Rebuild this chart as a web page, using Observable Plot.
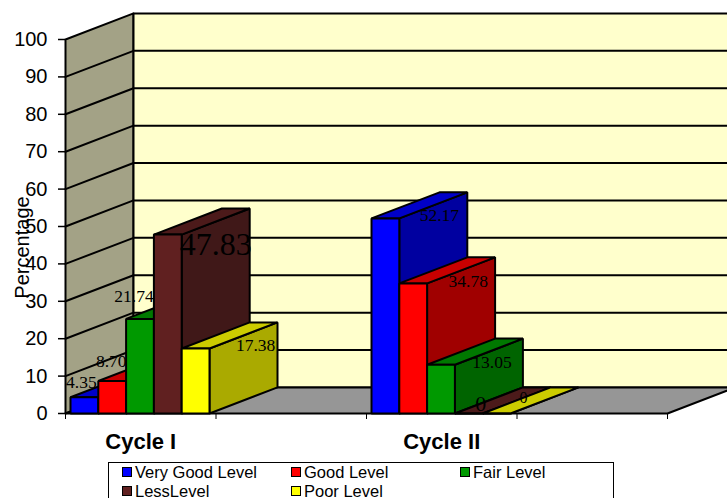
<!DOCTYPE html>
<html>
<head>
<meta charset="utf-8">
<script src="https://cdn.jsdelivr.net/npm/d3@7"></script>
<script src="https://cdn.jsdelivr.net/npm/@observablehq/plot@0.6"></script>
<style>
  body { margin: 0; background: #fff; overflow: hidden; }
  #wrap { position: relative; width: 727px; height: 498px; overflow: hidden; font-family: "Liberation Sans", Arial, sans-serif; }
  #wrap svg { overflow: hidden; }
  .legend { position: absolute; left: 108px; top: 462px; width: 506px; height: 60px; border: 1px solid #000; box-sizing: border-box; }
  .item { position: absolute; display: flex; align-items: center; font-size: 16.5px; line-height: 18px; color: #000; white-space: nowrap; }
  .swatch { width: 8px; height: 8px; border: 1.5px solid #000; margin-right: 3px; margin-top: -1px; }
</style>
</head>
<body>
<div id="wrap"></div>
<script>
// ---- data ----
const categories = ["Cycle I", "", "Cycle II", ""];
const cycles = ["Cycle I", "Cycle II"];
const series = ["Very Good Level", "Good Level", "Fair Level", "LessLevel", "Poor Level"];
const veryGood = [4.35, 52.17];
const good = [8.70, 34.78];
const fair = [25.3, 13.05];
const less = [47.83, 0];
const poor = [17.38, 0];
const valueLabels = [["4.35", "8.70", "21.74", "47.83", "17.38"], ["52.17", "34.78", "13.05", "0", "0"]];
const yTicks = [0, 10, 20, 30, 40, 50, 60, 70, 80, 90, 100];
const yLabel = "Percentage";

// ---- styles ----
const frontColors = ["#0000ff", "#ff0000", "#009900", "#602020", "#ffff00"];
const topColors   = ["#0000c8", "#c80000", "#007800", "#4c1a1a", "#cccc00"];
const sideColors  = ["#0000a0", "#a00000", "#006400", "#401818", "#aaaa00"];
const sideWallColor = "#a3a286";
const backWallColor = "#ffffcc";
const floorColor = "#969696";
// label nudges (px, relative to front-top centre of bar) and sizes
const labelNudge = [
  [[-3, -15, 17.5], [-1, -20, 17.5], [-6, -22, 17.5], [48, 10, 32], [60, -3, 17.5]],
  [[54, -3, 17.5], [55, -2, 17.5], [51, -2, 17.5], [12, -10, 22], [27, -16, 16]]
];

const values = [veryGood, good, fair, less, poor];

// projection constants (oblique depth)
const slotPx = 602 / categories.length;
const DX = 68 / slotPx;          // depth shift in x (category units)
const DY = 26 * 100 / 373;       // depth shift in y (value units)
const P = (x, y, d) => ({x: x + d * DX, y: y + d * DY});

const polys = [];
let pid = 0;
function poly(pts, fill) {
  const id = pid++;
  for (const [x, y, d] of pts) polys.push({id, fill, ...P(x, y, d)});
}
const N = categories.length;
// walls
poly([[0, 0, 0], [0, 100, 0], [0, 100, 1], [0, 0, 1]], sideWallColor);
poly([[0, 0, 1], [0, 100, 1], [N, 100, 1], [N, 0, 1]], backWallColor);
poly([[0, 0, 0], [N, 0, 0], [N, 0, 1], [0, 0, 1]], floorColor);

// gridlines
const grid = [];
yTicks.filter(t => t > 0 && t < 100).forEach((t, i) => {
  [[0, t, 0], [0, t, 1], [N, t, 1]].forEach(([x, y, d]) => grid.push({g: i, ...P(x, y, d)}));
});

// bars
const pad = 5 / slotPx;
const bw = 139 / 5 / slotPx;
const labels = [];
cycles.forEach((c, ci) => {
  const slot = categories.indexOf(c);
  series.forEach((s, si) => {
    const v = values[si][ci];
    const x0 = slot + pad + si * bw, x1 = x0 + bw;
    poly([[x1, 0, 0], [x1, v, 0], [x1, v, 1], [x1, 0, 1]], sideColors[si]);
    poly([[x0, v, 0], [x1, v, 0], [x1, v, 1], [x0, v, 1]], topColors[si]);
    poly([[x0, 0, 0], [x1, 0, 0], [x1, v, 0], [x0, v, 0]], frontColors[si]);
    const [dx, dy, fs] = labelNudge[ci][si];
    labels.push({x: (x0 + x1) / 2, y: v, text: valueLabels[ci][si], dx, dy, fs});
  });
});
const wallPolys = polys.filter(p => p.id < 3);
const bars = polys.filter(p => p.id >= 3);

const marks = [
  Plot.line(wallPolys, {x: "x", y: "y", z: "id", fill: "fill", stroke: "#000", strokeWidth: 2, curve: "linear-closed"}),
  Plot.line(grid, {x: "x", y: "y", z: "g", stroke: "#000", strokeWidth: 2}),
  Plot.line(bars, {x: "x", y: "y", z: "id", fill: "fill", stroke: "#000", strokeWidth: 2, curve: "linear-closed", strokeLinejoin: "miter"}),
  Plot.axisY({ticks: yTicks, tickSize: 7, tickPadding: 11, fontSize: 20, label: null, stroke: "#000", strokeWidth: 1.5}),
  Plot.axisX({ticks: d3.range(N + 1), tickSize: 6, tickFormat: () => "", label: null, strokeWidth: 1}),
  Plot.text(cycles, {x: c => categories.indexOf(c) + 0.5, y: 0, text: d => d, dy: 35, lineAnchor: "bottom", fontSize: 22, fontWeight: "bold", fill: "#000"}),
  Plot.text([yLabel], {frameAnchor: "left", textAnchor: "middle", text: d => d, rotate: -90, dx: -43, dy: 21, fontSize: 20, fill: "#000"}),
  ...labels.map(l => Plot.text([l], {x: "x", y: "y", text: "text", dx: l.dx, dy: l.dy, fontSize: l.fs, fontFamily: "Liberation Serif, Times New Roman, serif", fill: "#000"}))
];

const chart = Plot.plot({
  width: 727,
  height: 460,
  marginLeft: 65,
  marginRight: 727 - 667,
  marginTop: 39,
  marginBottom: 47,
  x: {domain: [0, N], axis: null},
  y: {domain: [0, 100], axis: null},
  color: {type: "identity"},
  style: {fontFamily: "Liberation Sans, Arial, sans-serif", color: "#000", background: "#fff"},
  marks
});
const wrap = document.getElementById("wrap");
wrap.appendChild(chart);

// legend
const legend = document.createElement("div");
legend.className = "legend";
series.forEach((s, i) => {
  const row = Math.floor(i / 3), col = i % 3;
  const item = document.createElement("div");
  item.className = "item";
  item.style.left = (13 + col * 169) + "px";
  item.style.top = (row * 19) + "px";
  const sw = document.createElement("span");
  sw.className = "swatch";
  sw.style.background = frontColors[i];
  item.appendChild(sw);
  item.appendChild(document.createTextNode(s));
  legend.appendChild(item);
});
wrap.appendChild(legend);
</script>
</body>
</html>
